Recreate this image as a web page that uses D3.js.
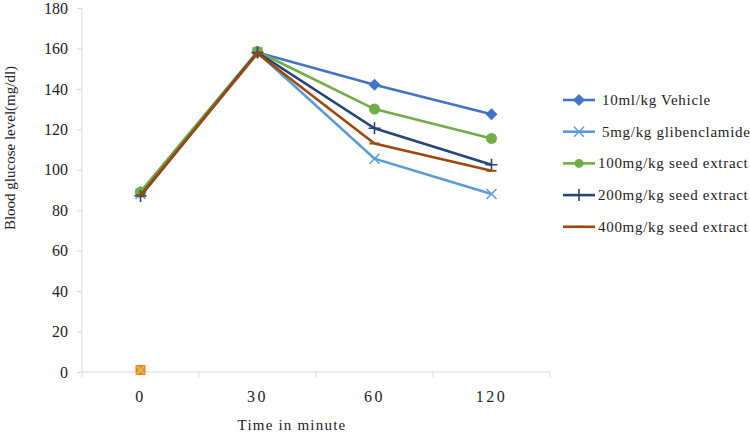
<!DOCTYPE html>
<html><head><meta charset="utf-8">
<script src="https://cdn.jsdelivr.net/npm/d3@7"></script>
<style>body{margin:0;background:#fff}svg{display:block}</style>
</head><body><svg id="c" width="750" height="436"></svg>
<script>
const categories = ["0","30","60","120"];
const seriesNames = ["10ml/kg Vehicle","5mg/kg glibenclamide","100mg/kg seed extract","200mg/kg seed extract","400mg/kg seed extract"];
const vehicle = [89, 158, 142, 127.5];
const gliben = [88, 158, 105.5, 88];
const seed100 = [89, 158.5, 130, 115.5];
const seed200 = [87, 158, 120.5, 102.5];
const seed400 = [87.5, 157.5, 113, 99.5];
const strayPoint = [1];
const yTicks = [0,20,40,60,80,100,120,140,160,180];
const colors = ["#4472C4","#5B9BD5","#70AD47","#264478","#9E480E"];
const markers = ["diamond","x","circle","plus","dash"];
const allSeries = [vehicle, gliben, seed100, seed200, seed400];

const svg = d3.select("#c");
const font = "'Liberation Serif','Times New Roman',serif";
const x = d3.scaleBand().domain(categories).range([82,550]);
const y = d3.scaleLinear().domain([0,180]).range([372,8]);
const cx = c => x(c) + x.bandwidth()/2;

// y axis
const ya = svg.append("g").attr("transform","translate(82,0)").call(d3.axisLeft(y).tickValues(yTicks).tickSize(5).tickPadding(9));
ya.select(".domain").attr("stroke","#d9d9d9").attr("d","M0,8V372");
ya.selectAll(".tick line").attr("stroke","#d9d9d9");
ya.selectAll("text").attr("font-family",font).attr("font-size","16px").attr("fill","#222");

// x axis
const xa = svg.append("g").attr("transform","translate(0,372)");
xa.append("line").attr("x1",82).attr("x2",550).attr("stroke","#d9d9d9");
xa.selectAll(".xt").data(categories.concat(["_end"])).enter().append("line")
  .attr("x1",(d,i)=> i<categories.length ? x(d) : x.range()[1])
  .attr("x2",(d,i)=> i<categories.length ? x(d) : x.range()[1])
  .attr("y1",0).attr("y2",5).attr("stroke","#d9d9d9");
xa.selectAll(".xl").data(categories).enter().append("text")
  .attr("x",d=>cx(d)).attr("y",30).attr("text-anchor","middle")
  .attr("font-family",font).attr("font-size","16px").attr("fill","#222")
  .attr("letter-spacing","2.5px").text(d=>d);

// titles
svg.append("text").attr("transform","translate(15,148) rotate(-90)").attr("text-anchor","middle")
  .attr("font-family",font).attr("font-size","15px").attr("fill","#222").text("Blood glucose level(mg/dl)");
svg.append("text").attr("x",292).attr("y",430).attr("text-anchor","middle").attr("letter-spacing","1.2px")
  .attr("font-family",font).attr("font-size","15px").attr("fill","#222").text("Time in minute");

function marker(g, type, color, px, py, s) {
  if (type==="diamond") g.append("path").attr("d",`M${px},${py-6}L${px+6},${py}L${px},${py+6}L${px-6},${py}Z`).attr("fill",color);
  else if (type==="circle") g.append("circle").attr("cx",px).attr("cy",py).attr("r",s||5.5).attr("fill",color);
  else if (type==="x") g.append("path").attr("d",`M${px-5},${py-5}L${px+5},${py+5}M${px-5},${py+5}L${px+5},${py-5}`).attr("stroke",color).attr("stroke-width",1.5);
  else if (type==="plus") g.append("path").attr("d",`M${px-6},${py}L${px+6},${py}M${px},${py-6}L${px},${py+6}`).attr("stroke",color).attr("stroke-width",1.6);
  else if (type==="dash") g.append("path").attr("d",`M${px-5},${py}L${px+5},${py}`).attr("stroke",color).attr("stroke-width",2);
}

const line = d3.line().x((d,i)=>cx(categories[i])).y(d=>y(d));
allSeries.forEach((s,k)=>{
  const g = svg.append("g");
  g.append("path").datum(s).attr("d",line).attr("fill","none").attr("stroke",colors[k]).attr("stroke-width",2.6);
  s.forEach((v,i)=>marker(g, markers[k], colors[k], cx(categories[i]), y(v)));
});

// stray point at 0
svg.append("rect").attr("x",cx("0")-5).attr("y",y(strayPoint[0])-5).attr("width",10).attr("height",10).attr("fill","#ED7D31");
svg.append("rect").attr("x",cx("0")-3).attr("y",y(strayPoint[0])-3).attr("width",6).attr("height",6).attr("fill","#A5A5A5").attr("opacity",0.7);
svg.append("path").attr("d",`M${cx("0")-4},${y(strayPoint[0])-4}L${cx("0")+4},${y(strayPoint[0])+4}M${cx("0")-4},${y(strayPoint[0])+4}L${cx("0")+4},${y(strayPoint[0])-4}`).attr("stroke","#FFC000").attr("stroke-width",1.3);

// legend
const lg = svg.append("g");
seriesNames.forEach((n,k)=>{
  const ly = 100 + k*31.7;
  lg.append("line").attr("x1",563).attr("x2",595).attr("y1",ly).attr("y2",ly).attr("stroke",colors[k]).attr("stroke-width",2.6);
  marker(lg, markers[k], colors[k], 579, ly, 4.5);
  lg.append("text").attr("x", k<2 ? 602 : 598).attr("y",ly+5).attr("font-family",font).attr("font-size","15px")
    .attr("letter-spacing","0.7px").attr("fill","#222").text(n);
});
</script></body></html>
